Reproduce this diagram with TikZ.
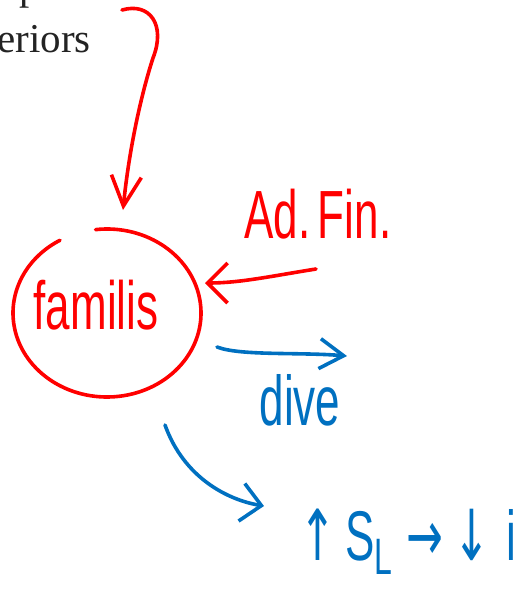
\documentclass[tikz,border=0pt]{standalone}
\usepackage{fontspec}
\setmainfont{Liberation Serif}
\newfontfamily\handfont{Liberation Sans}
\newfontfamily\arrowfont{DejaVu Sans}
\usetikzlibrary{arrows.meta}
\definecolor{inkred}{RGB}{255,0,0}
\definecolor{inkblue}{RGB}{0,112,192}
\definecolor{printgray}{RGB}{35,35,35}
\tikzset{
  redink/.style={draw=inkred, line width=3.6pt, line cap=round, line join=round},
  blueink/.style={draw=inkblue, line width=3.6pt, line cap=round, line join=round},
  handred/.style={text=inkred, font=\handfont\fontsize{44}{48}\selectfont, inner sep=0pt},
  handblue/.style={text=inkblue, font=\handfont\fontsize{44}{48}\selectfont, inner sep=0pt},
  printed/.style={text=printgray, font=\fontsize{41}{44}\selectfont, inner sep=0pt},
}
\begin{document}
\begin{tikzpicture}[x=1pt, y=-1pt]
  \useasboundingbox (0,0) rectangle (526,589);
  \clip (0,0) rectangle (526,589);

  % printed lines of the page behind the notes
  \node[printed, anchor=base west] (line1) at (19,-1) {p};
  \node[printed, anchor=base east] (line2) at (91,52) {eriors};

  % circled term
  \node[handred, yscale=1.55] (fam) at (96,305) {familis};
  \draw[redink] (107,313) ++(263:94 and 84) arc[start angle=263, end angle=600, x radius=94, y radius=84];
  \coordinate (famtop) at (123,210);
  \coordinate (famright) at (205,283);
  \coordinate (famright2) at (217,347);
  \coordinate (fambottom) at (165,425);

  % incoming arrow from the text above
  \coordinate (src) at (122,10);
  \draw[redink, -{Straight Barb[length=30pt, width=30pt, line width=3.6pt]}]
    (src) .. controls (150,2) and (166,25) .. (153,58)
    .. controls (141,95) and (129,150) .. (famtop);

  % Ad. Fin. pointing into the circle
  \node[handred, yscale=1.55] (adfin) at (318,214) {Ad.\,Fin.};
  \coordinate (adfinfoot) at (316,269);
  \draw[redink, -{Straight Barb[length=20pt, width=40pt, line width=3.6pt]}]
    (adfinfoot) .. controls (272,276) and (240,283) .. (famright);

  % outgoing blue arrows
  \coordinate (diveend) at (347,356);
  \draw[blueink, -{Straight Barb[length=24pt, width=30pt, line width=3.6pt]}]
    (famright2) .. controls (240,356) and (300,352) .. (diveend);
  \node[handblue, yscale=1.6] (dive) at (300,400) {dive};

  \coordinate (slend) at (264,506);
  \draw[blueink, -{Straight Barb[length=20pt, width=38pt, line width=3.6pt]}]
    (fambottom) .. controls (184,478) and (228,500) .. (slend);
  \node[handblue, yscale=1.6] (sl) at (408,542)
    {{\arrowfont ↑}\kern9pt S\raisebox{-9pt}{\fontsize{32}{32}\selectfont L}\kern14pt{\arrowfont →}\kern10pt{\arrowfont ↓}\kern16pt i};
\end{tikzpicture}
\end{document}
